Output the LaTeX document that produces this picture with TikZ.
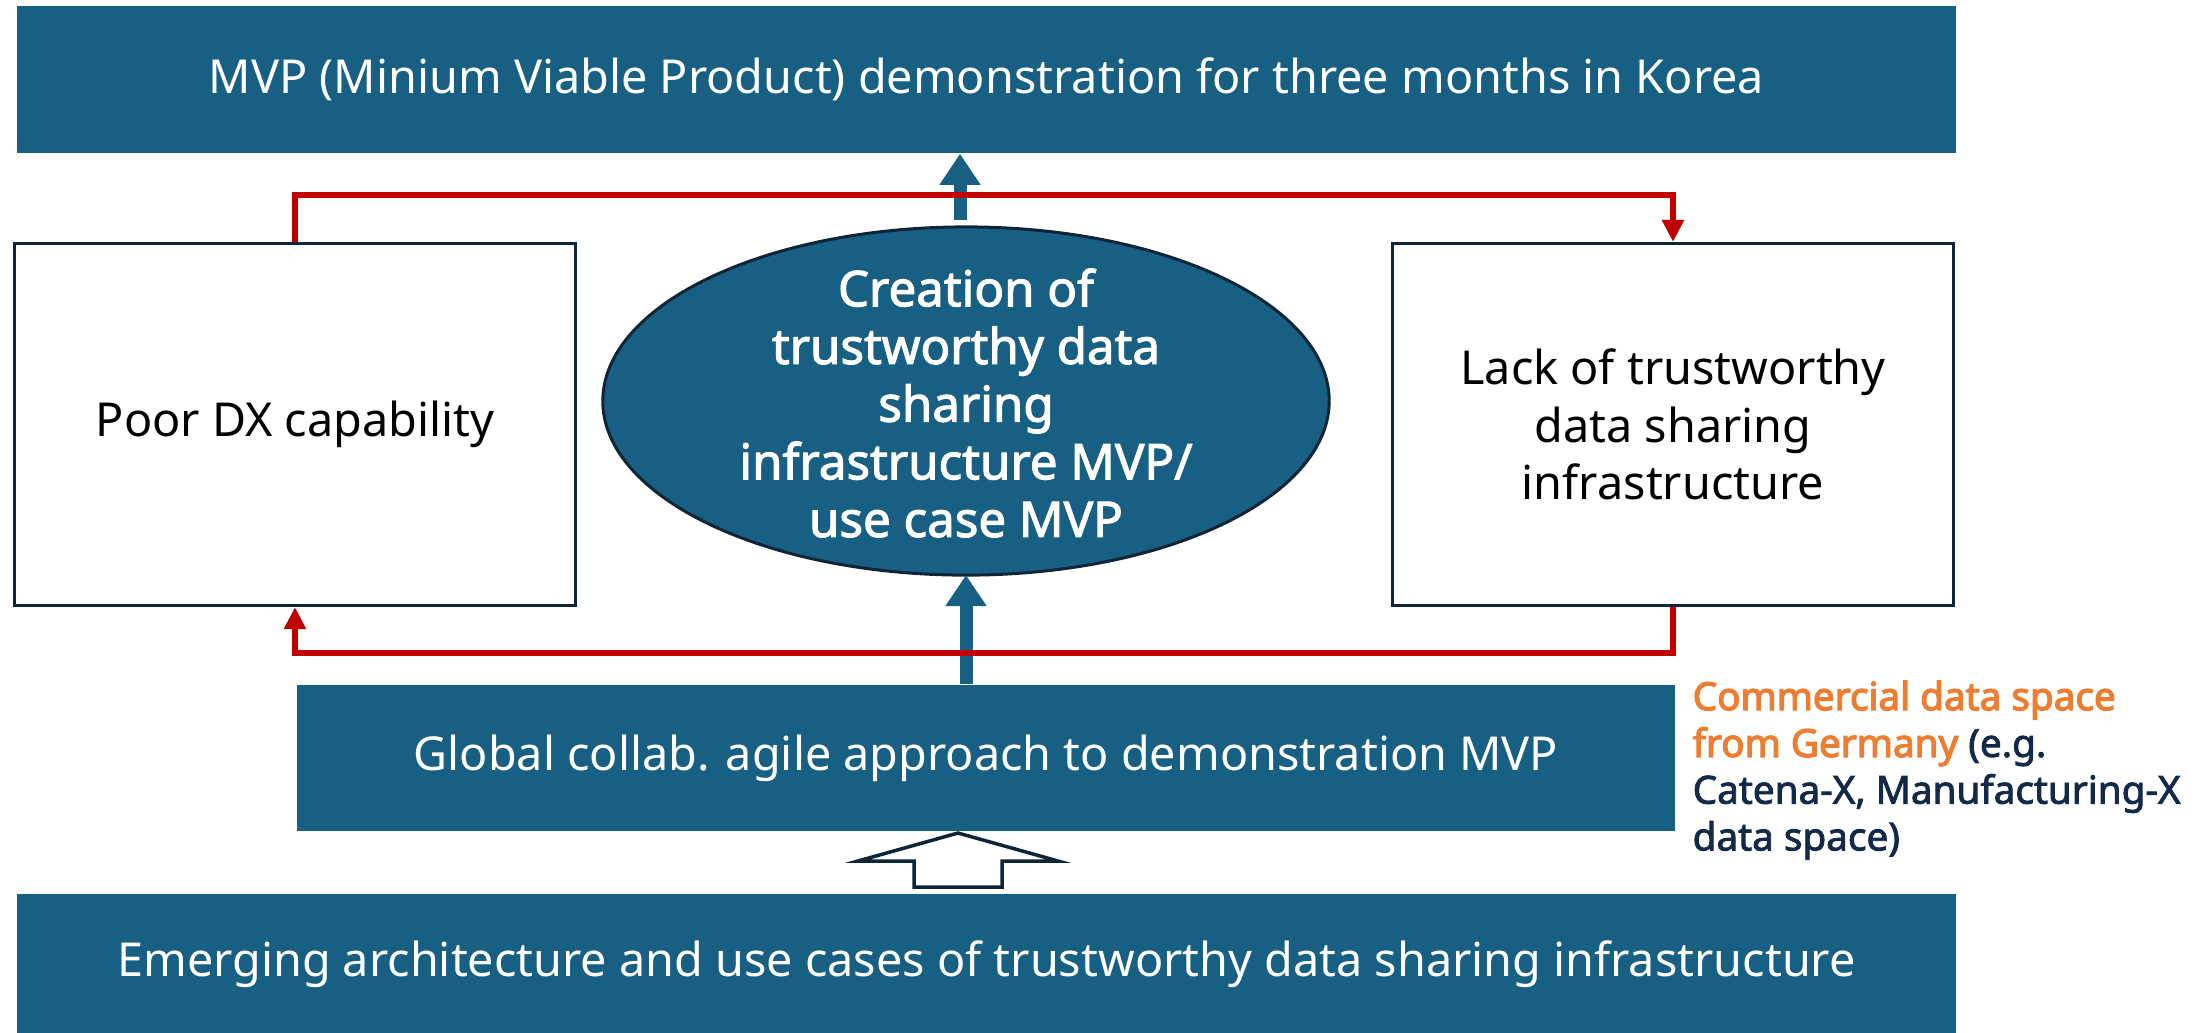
\documentclass[tikz,border=0pt]{standalone}
\usepackage{fontspec}
\setmainfont{Noto Sans}
\newfontfamily\heavysans{Noto Sans}[FakeBold=2.2]
\newfontfamily\heaviersans{Noto Sans}[FakeBold=3.2]
\usetikzlibrary{arrows.meta}
\definecolor{barblue}{HTML}{175F83}
\definecolor{darknavy}{HTML}{0E2537}
\definecolor{loopred}{HTML}{C00000}
\definecolor{germanorange}{HTML}{ED7D31}
\definecolor{notetext}{HTML}{12294A}
\tikzset{
  bar/.style={fill=barblue, text=white, inner sep=0pt, font=\fontsize{13.3}{16.4}\selectfont},
  whitebox/.style={draw=darknavy, line width=0.03cm, fill=white, minimum width=5.6cm,
    minimum height=3.62cm, inner sep=0pt, align=center, font=\fontsize{13.3}{16.4}\selectfont},
  bluearrow/.style={draw=barblue, line width=0.13cm, -{Triangle[width=0.39cm,length=0.31cm]}},
  redloop/.style={draw=loopred, line width=0.065cm, -{Triangle[width=0.21cm,length=0.22cm]}},
}
\begin{document}
\begin{tikzpicture}[x=0.01cm, y=-0.01cm]
    \useasboundingbox (0,0) rectangle (2205,1032);

    % Bars
    \node[bar, minimum width=19.37cm, minimum height=1.47cm] (mvp) at (986.5,79.5)
        {MVP (Minium Viable Product) demonstration for three months in Korea};
    \node[bar, minimum width=13.78cm, minimum height=1.46cm] (global) at (986,758)
        {Global collab. agile approach to demonstration MVP};
    \node[bar, minimum width=19.37cm, minimum height=1.40cm] (emerging) at (986.5,964)
        {Emerging architecture and use cases of trustworthy data sharing infrastructure};

    % Side boxes
    \node[whitebox] (dx) at (295,424.5) {Poor DX capability};
    \node[whitebox] (lack) at (1673,424.5) {Lack of trustworthy\\data sharing\\infrastructure};

    % Centre ellipse
    \draw[darknavy, line width=0.03cm, fill=barblue] (966,401) ellipse (3.63cm and 1.74cm);
    \node[text=white, align=center, font=\heavysans\fontsize{14}{16.4}\selectfont] (crt) at (966,403)
        {Creation of\\trustworthy data\\sharing\\infrastructure MVP/\\use case MVP};
    \coordinate (crttop) at (960,220);
    \coordinate (crtbot) at (966,575);

    % Blue arrows
    \draw[bluearrow] (crttop) -- (crttop |- mvp.south);
    \draw[bluearrow] (crtbot |- global.north) -- (crtbot);

    % Red loop
    \draw[redloop] (dx.north) -- ++(0,-47) -| (lack.north);
    \draw[redloop] (lack.south) -- ++(0,46) -| (dx.south);

    % Hollow arrow
    \coordinate (tip) at (958,833);
    \draw[darknavy, line width=0.035cm, fill=white, line join=miter]
        (tip) -- (1058,861) -- (1002,861) -- (1002,887) -- (914,887) -- (914,861) -- (858,861) -- cycle;

    % Note
    \node[anchor=north west, align=left, inner sep=0pt, text=notetext,
          font=\heavysans\fontsize{11}{13.3}\selectfont] (note) at (1692,680)
        {{\heaviersans\color{germanorange}Commercial data space}\\
         {\heaviersans\color{germanorange}from Germany} (e.g.\\
         Catena-X, Manufacturing-X\\
         data space)};
\end{tikzpicture}
\end{document}
